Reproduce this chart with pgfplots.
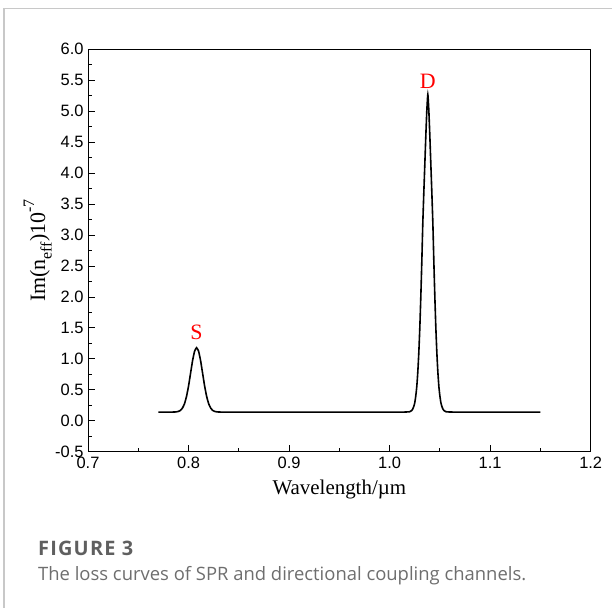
\documentclass[border=0pt]{standalone}
\usepackage{fontspec}
\setmainfont{Liberation Serif}
\newfontfamily\arial{Liberation Sans}
\newfontfamily\capfont{Open Sans}
\newfontfamily\capbfont[LetterSpace=6]{Open Sans Bold}
\usepackage{pgfplots}
\pgfplotsset{compat=1.18}
\definecolor{framegray}{RGB}{200,200,200}
\definecolor{capbold}{RGB}{95,95,95}
\definecolor{captext}{RGB}{110,110,110}
\begin{document}
\begin{tikzpicture}[x=1bp,y=1bp]
\path[use as bounding box] (0,0) rectangle (612,-608);
\draw[framegray, line width=1.5bp] (4,-608) -- (4,-8.7) -- (612,-8.7);
\begin{axis}[
  at={(88bp,-451.7bp)}, anchor=south west,
  scale only axis, width=502.7bp, height=402.4bp,
  xmin=0.7, xmax=1.2, ymin=-0.5, ymax=6.0,
  xtick={0.7,0.8,0.9,1.0,1.1,1.2},
  ytick={-0.5,0,0.5,1,1.5,2,2.5,3,3.5,4,4.5,5,5.5,6},
  minor x tick num=1, minor y tick num=1,
  tick align=inside, xtick pos=lower, ytick pos=left,
  major tick length=6.5bp, minor tick length=3.5bp,
  tick style={black, line width=0.8bp},
  axis line style={line width=0.9bp},
  /pgf/number format/assume math mode=true,
  ticklabel style={font=\arial\fontsize{16.5}{17}\selectfont},
  xticklabel style={yshift=-2bp, /pgf/number format/.cd, fixed, fixed zerofill, precision=1},
  yticklabel style={xshift=-1bp, /pgf/number format/.cd, fixed, fixed zerofill, precision=1},
  xlabel={Wavelength/µm},
  ylabel={Im(n\raisebox{-0.3em}{\fontsize{16}{16}\selectfont eff})10\raisebox{0.5em}{\fontsize{16}{16}\selectfont -7}},
  label style={font=\fontsize{21}{23}\selectfont},
  xlabel style={at={(axis description cs:0.5,-0.095)}, anchor=center},
  ylabel style={at={(axis description cs:-0.1,0.5)}, anchor=center, font=\fontsize{22}{23}\selectfont},
]
\addplot[black, line width=1.6bp, smooth, tension=0.3] coordinates {
(0.770,0.140) (0.780,0.140) (0.786,0.141) (0.788,0.144) (0.790,0.151) (0.792,0.168)
(0.794,0.206) (0.796,0.276) (0.798,0.394) (0.800,0.561) (0.802,0.766)
(0.804,0.970) (0.806,1.123) (0.808,1.180) (0.810,1.123) (0.812,0.970)
(0.814,0.766) (0.816,0.561) (0.818,0.394) (0.820,0.276) (0.822,0.206)
(0.824,0.168) (0.826,0.151) (0.828,0.144) (0.830,0.141) (0.840,0.140)
(0.900,0.140) (0.960,0.140) (1.010,0.140) (1.016,0.141) (1.018,0.143)
(1.020,0.146) (1.022,0.165) (1.023,0.190) (1.024,0.230) (1.025,0.290)
(1.026,0.400) (1.027,0.550) (1.028,0.780) (1.029,1.090) (1.030,1.490)
(1.031,1.990) (1.032,2.560) (1.033,3.190) (1.034,3.680) (1.035,4.140)
(1.036,4.600) (1.037,5.010) (1.038,5.270) (1.039,5.010) (1.040,4.600)
(1.041,4.140) (1.042,3.680) (1.043,3.190) (1.044,2.560) (1.045,1.990)
(1.046,1.490) (1.047,1.090) (1.048,0.780) (1.049,0.550) (1.050,0.400)
(1.051,0.290) (1.052,0.230) (1.053,0.190) (1.054,0.165) (1.056,0.146)
(1.058,0.143) (1.060,0.141) (1.070,0.140) (1.100,0.140) (1.150,0.140)
};
\node[text=red, font=\fontsize{22}{22}\selectfont] at (axis cs:0.808,1.43) {S};
\node[text=red, font=\fontsize{22}{22}\selectfont] at (axis cs:1.038,5.49) {D};
\end{axis}
\node[anchor=base west, inner sep=0, text=capbold, font=\capbfont\fontsize{20}{21}\selectfont] at (38,-555) {FIGURE 3};
\node[anchor=base west, inner sep=0, text=captext, font=\capfont\fontsize{18.5}{21}\selectfont] at (38,-580) {The loss curves of SPR and directional coupling channels.};
\end{tikzpicture}
\end{document}
